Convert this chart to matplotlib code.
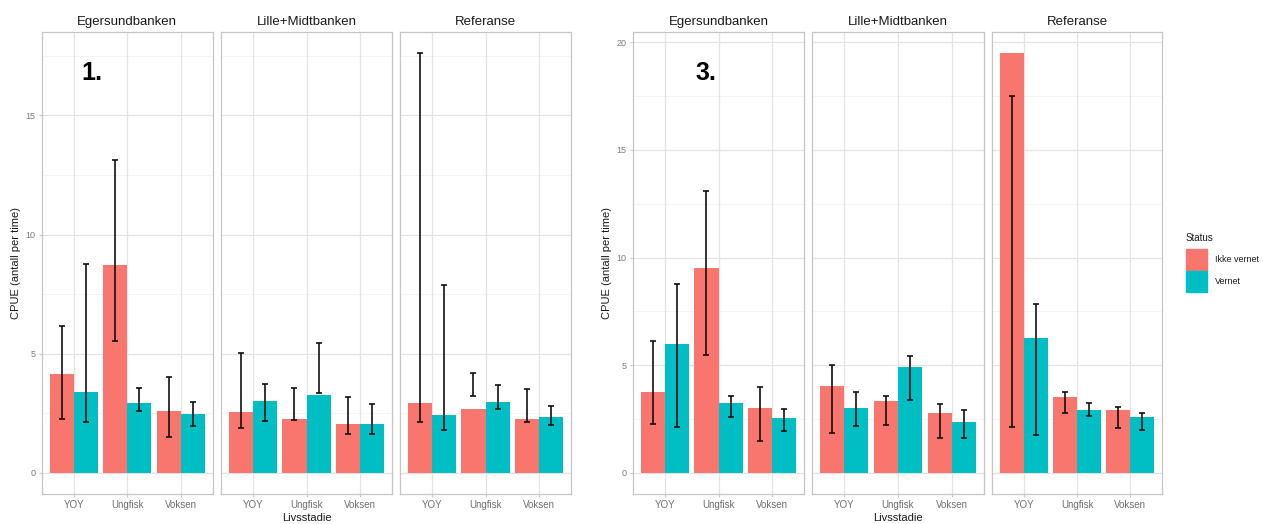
import matplotlib
matplotlib.use("Agg")
import matplotlib.pyplot as plt
from matplotlib.patches import Rectangle
import numpy as np

plt.rcParams['font.family'] = ['Liberation Sans', 'DejaVu Sans']

# ---------------- data ----------------
areas = ["Egersundbanken", "Lille+Midtbanken", "Referanse"]
stages = ["YOY", "Ungfisk", "Voksen"]
statuses = ["Ikke vernet", "Vernet"]
colors = ["#F8766D", "#00BFC4"]

# Figure 1 (left): rows = areas, columns = stages
p1_ikke = [[4.16, 8.73, 2.59], [2.56, 2.25, 2.07], [2.95, 2.67, 2.25]]
p1_ikke_lo = [[2.28, 5.52, 1.50], [1.87, 2.24, 1.62], [2.15, 3.23, 2.15]]
p1_ikke_hi = [[6.15, 13.12, 4.02], [5.04, 3.58, 3.19], [17.62, 4.18, 3.52]]
p1_vern = [[3.39, 2.95, 2.49], [3.03, 3.26, 2.07], [2.42, 2.99, 2.35]]
p1_vern_lo = [[2.12, 2.60, 1.97], [2.19, 3.37, 1.62], [1.80, 2.67, 2.01]]
p1_vern_hi = [[8.78, 3.56, 2.96], [3.74, 5.44, 2.89], [7.88, 3.69, 2.82]]

# Figure 3 (right)
p3_ikke = [[3.74, 9.50, 3.00], [4.05, 3.33, 2.77], [19.50, 3.53, 2.93]]
p3_ikke_lo = [[2.26, 5.49, 1.49], [1.86, 2.24, 1.64], [2.12, 2.79, 2.10]]
p3_ikke_hi = [[6.13, 13.08, 3.99], [5.00, 3.58, 3.19], [17.52, 3.74, 3.08]]
p3_vern = [[5.99, 3.23, 2.57], [3.02, 4.92, 2.37], [6.25, 2.91, 2.61]]
p3_vern_lo = [[2.14, 2.60, 1.96], [2.20, 3.37, 1.64], [1.75, 2.65, 2.00]]
p3_vern_hi = [[8.76, 3.56, 2.95], [3.74, 5.42, 2.91], [7.83, 3.25, 2.77]]

p1_ticks = [0, 5, 10, 15]
p3_ticks = [0, 5, 10, 15, 20]

# ---------------- layout ----------------
W, H = 1263, 524
fig = plt.figure(figsize=(W / 100, H / 100), dpi=100)
fig.patch.set_facecolor("white")

TOP, BOT = 32, 494
left_x = [(41.7, 213), (221, 392), (400, 571)]
right_x = [(633, 804), (812, 984), (992, 1162)]


def add_ax(x0, x1):
    return fig.add_axes([x0 / W, 1 - BOT / H, (x1 - x0) / W, (BOT - TOP) / H])


def draw_figure(xs, ikke, ikke_lo, ikke_hi, vern, vern_lo, vern_hi, ticks):
    ymax = max(max(max(r) for r in ikke_hi), max(max(r) for r in vern_hi),
               max(max(r) for r in ikke), max(max(r) for r in vern))
    pad = 0.05 * ymax
    axes = []
    x = np.arange(1, len(stages) + 1)
    for i, area in enumerate(areas):
        ax = add_ax(*xs[i])
        axes.append(ax)
        ax.set_xlim(0.4, 3.6)
        ax.set_ylim(-pad, ymax + pad)
        # grid
        minor = [(ticks[k] + ticks[k + 1]) / 2 for k in range(len(ticks) - 1)]
        minor.append(ticks[-1] + (ticks[1] - ticks[0]) / 2)
        for m in minor:
            ax.axhline(m, color="#F2F2F2", lw=0.6, zorder=0)
        for t in ticks:
            ax.axhline(t, color="#E3E3E3", lw=0.9, zorder=0)
        for xx in x:
            ax.axvline(xx, color="#E3E3E3", lw=0.9, zorder=0)
        w = 0.45
        ax.bar(x - w / 2, ikke[i], width=w, color=colors[0], zorder=2)
        ax.bar(x + w / 2, vern[i], width=w, color=colors[1], zorder=2)
        for j in range(len(stages)):
            for off, lo, hi in ((-w / 2, ikke_lo[i][j], ikke_hi[i][j]),
                                (w / 2, vern_lo[i][j], vern_hi[i][j])):
                mid = (lo + hi) / 2
                ax.errorbar([x[j] + off], [mid], yerr=[[mid - lo], [hi - mid]],
                            fmt="none", ecolor="#111111", elinewidth=1.2, capsize=2.0,
                            capthick=1.2, zorder=3)
        for s in ax.spines.values():
            s.set_color("#C6C6C6")
            s.set_linewidth(0.9)
        ax.set_xticks(x)
        ax.set_xticklabels(stages, fontsize=7, color="#6E6E6E")
        ax.set_yticks(ticks)
        ax.tick_params(axis="both", length=2.5, color="#C6C6C6", width=0.8, pad=2)
        if i == 0:
            ax.set_yticklabels([str(t) for t in ticks], fontsize=6.5, color="#7A7A7A")
        else:
            ax.tick_params(axis="y", labelleft=False, length=0)
        ax.set_title(area, fontsize=9.5, color="#1A1A1A", pad=5)
    return axes


ax1 = draw_figure(left_x, p1_ikke, p1_ikke_lo, p1_ikke_hi, p1_vern, p1_vern_lo, p1_vern_hi, p1_ticks)
ax3 = draw_figure(right_x, p3_ikke, p3_ikke_lo, p3_ikke_hi, p3_vern, p3_vern_lo, p3_vern_hi, p3_ticks)

ax1[0].text(1.34, 16.8, "1.", fontsize=18, fontweight="bold", ha="center", va="center", zorder=5)
ax3[0].text(1.76, 18.58, "3.", fontsize=18, fontweight="bold", ha="center", va="center", zorder=5)

# axis titles
for cx in ((221 + 392) / 2, (812 + 984) / 2):
    fig.text(cx / W, 1 - 518 / H, "Livsstadie", fontsize=8, ha="center", va="center", color="#1A1A1A")
for cx in (16, 607):
    fig.text(cx / W, 1 - 263 / H, "CPUE (antall per time)", fontsize=8, rotation=90,
             ha="center", va="center", color="#1A1A1A")

# legend
fig.text(1186 / W, 1 - 238 / H, "Status", fontsize=7, ha="left", va="center", color="#1A1A1A")
key_y = [249, 271]
for k, st in enumerate(statuses):
    y0 = key_y[k]
    fig.patches.append(Rectangle((1186 / W, 1 - (y0 + 21) / H), 21 / W, 21 / H,
                                 transform=fig.transFigure, color=colors[k]))
    fig.text(1215 / W, 1 - (y0 + 11) / H, st, fontsize=6.5, ha="left", va="center", color="#1A1A1A")

fig.savefig("out.png", dpi=100)
